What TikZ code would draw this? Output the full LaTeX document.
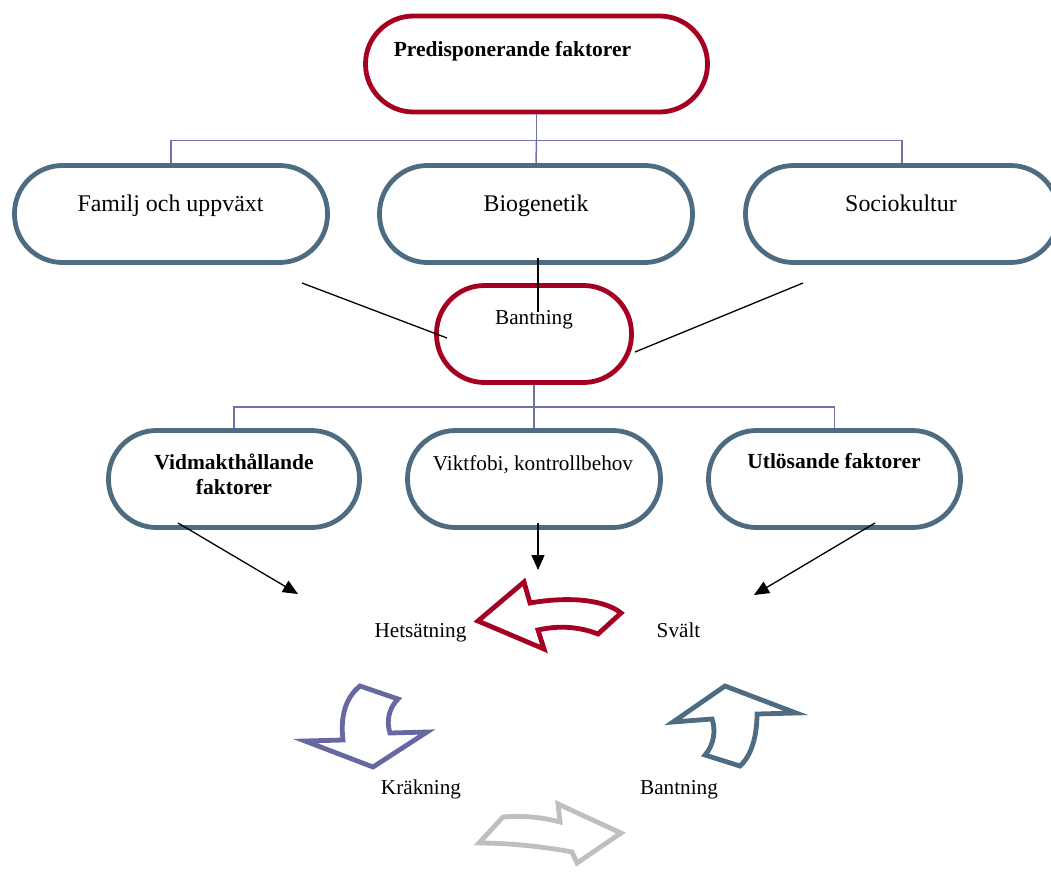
\documentclass[tikz,border=0pt]{standalone}
\usepackage{fontspec}
\setmainfont{Liberation Serif}
\usetikzlibrary{arrows.meta}
\definecolor{boxred}{HTML}{A50021}
\definecolor{slate}{HTML}{4D6C81}
\definecolor{treeline}{HTML}{7070AA}
\definecolor{purplearr}{HTML}{6767A2}
\definecolor{grayarr}{HTML}{BFBFBF}
\begin{document}
\begin{tikzpicture}[x=1pt,y=-1pt,
  pill/.style={draw=#1, line width=4.8pt, rounded corners=48pt, inner sep=0pt, fill=white},
  redpill/.style={pill=boxred},
  slatepill/.style={pill=slate},
  tree/.style={draw=treeline, line width=1.5pt},
  blk/.style={draw=black, line width=1.3pt},
  blkarrow/.style={blk, -{Triangle[length=15pt,width=13pt]}},
  bigtxt/.style={anchor=base, inner sep=0pt, font=\fontsize{23.9}{28}\selectfont},
  smalltxt/.style={anchor=base, inner sep=0pt, font=\fontsize{21.2}{25}\selectfont},
  boldtxt/.style={anchor=base, inner sep=0pt, align=center, font=\fontsize{21.5}{25}\selectfont\bfseries},
  cyc/.style={line width=4.8pt, line join=miter, fill=white}
]
\useasboundingbox (0,0) rectangle (1051,872);

% top level box
\node[redpill, minimum width=342pt, minimum height=96pt] (pre) at (536.5,64) {};
\node[boldtxt] (pret) at (512.5,57) {Predisponerande faktorer};

% second row
\node[slatepill, minimum width=313pt, minimum height=97pt] (fam) at (171,214) {};
\node[slatepill, minimum width=313pt, minimum height=97pt] (bio) at (536,214) {};
\node[slatepill, minimum width=313pt, minimum height=97pt] (soc) at (902,214) {};
\node[bigtxt] (famt) at (170.5,211) {Familj och uppväxt};
\node[bigtxt] (biot) at (536,211) {Biogenetik};
\node[bigtxt] (soct) at (901,211) {Sociokultur};

% tree from top
\draw[tree] (pre.south) -- ++(0,26) coordinate (j1);
\draw[tree] (j1) -| (fam.north);
\draw[tree] (j1) -| (soc.north);
\draw[tree] (j1) -- (bio.north);

% Bantning box
\node[redpill, minimum width=195pt, minimum height=97pt] (ban) at (534,334) {};
\node[smalltxt] (bant) at (534,324) {Bantning};

% lines into Bantning
\coordinate (l1a) at (302,283);
\coordinate (l1b) at (447,338);
\coordinate (l2a) at (803,283);
\coordinate (l2b) at (635,352);
\coordinate (l3a) at (538,258);
\coordinate (l3b) at (538,312);
\draw[blk] (l1a) -- (l1b);
\draw[blk] (l2a) -- (l2b);
\draw[blk] (l3a) -- (l3b);

% third row
\node[slatepill, minimum width=251pt, minimum height=97pt] (vid) at (234,479) {};
\node[slatepill, minimum width=253pt, minimum height=97pt] (vik) at (534,479) {};
\node[slatepill, minimum width=252pt, minimum height=97pt] (utl) at (834.5,479) {};
\node[boldtxt] (vidt) at (234,494) {Vidmakthållande\\faktorer};
\node[smalltxt] (vikt) at (533,470) {Viktfobi, kontrollbehov};
\node[boldtxt] (utlt) at (834,468) {Utlösande faktorer};

% tree from Bantning
\draw[tree] (ban.south) -- ++(0,22) coordinate (j2);
\draw[tree] (j2) -| (vid.north);
\draw[tree] (j2) -| (utl.north);
\draw[tree] (j2) -- (vik.north);

% arrows down
\coordinate (a1a) at (178,523);
\coordinate (a1b) at (298,594);
\coordinate (a2a) at (538,523);
\coordinate (a2b) at (538,570);
\coordinate (a3a) at (875,523);
\coordinate (a3b) at (754,595);
\draw[blkarrow] (a1a) -- (a1b);
\draw[blkarrow] (a2a) -- (a2b);
\draw[blkarrow] (a3a) -- (a3b);

% cycle labels
\node[smalltxt] (het) at (420.5,637) {Hetsätning};
\node[smalltxt] (sva) at (678.5,637) {Svält};
\node[smalltxt] (kra) at (421,794) {Kräkning};
\node[smalltxt] (ban2) at (679,794) {Bantning};

% cycle arrows
\draw[cyc, draw=boxred] (478,621) -- (524,582) -- (530,603)
  .. controls (570,596) and (605,600) .. (621,613) -- (598,634)
  .. controls (580,627) and (560,625) .. (538,630) -- (544,649) -- cycle;
\draw[cyc, draw=purplearr] (360,686) -- (398,699)
  .. controls (389,708) and (386,721) .. (390,733) -- (427,732) -- (373,767) -- (305,741) -- (343,740)
  .. controls (340,716) and (346,697) .. (360,686) -- cycle;
\draw[cyc, draw=slate] (725,686) -- (796,713) -- (757,714)
  .. controls (757,735) and (752,755) .. (740,766) -- (705,755)
  .. controls (714,745) and (716,730) .. (712,719) -- (673,722) -- cycle;
\draw[cyc, draw=grayarr] (479,843) -- (503,817)
  .. controls (525,815) and (545,818) .. (560,822) -- (558,804) -- (621,833) -- (577,863) -- (572,852)
  .. controls (535,845) and (500,843) .. (479,843) -- cycle;
\end{tikzpicture}
\end{document}
